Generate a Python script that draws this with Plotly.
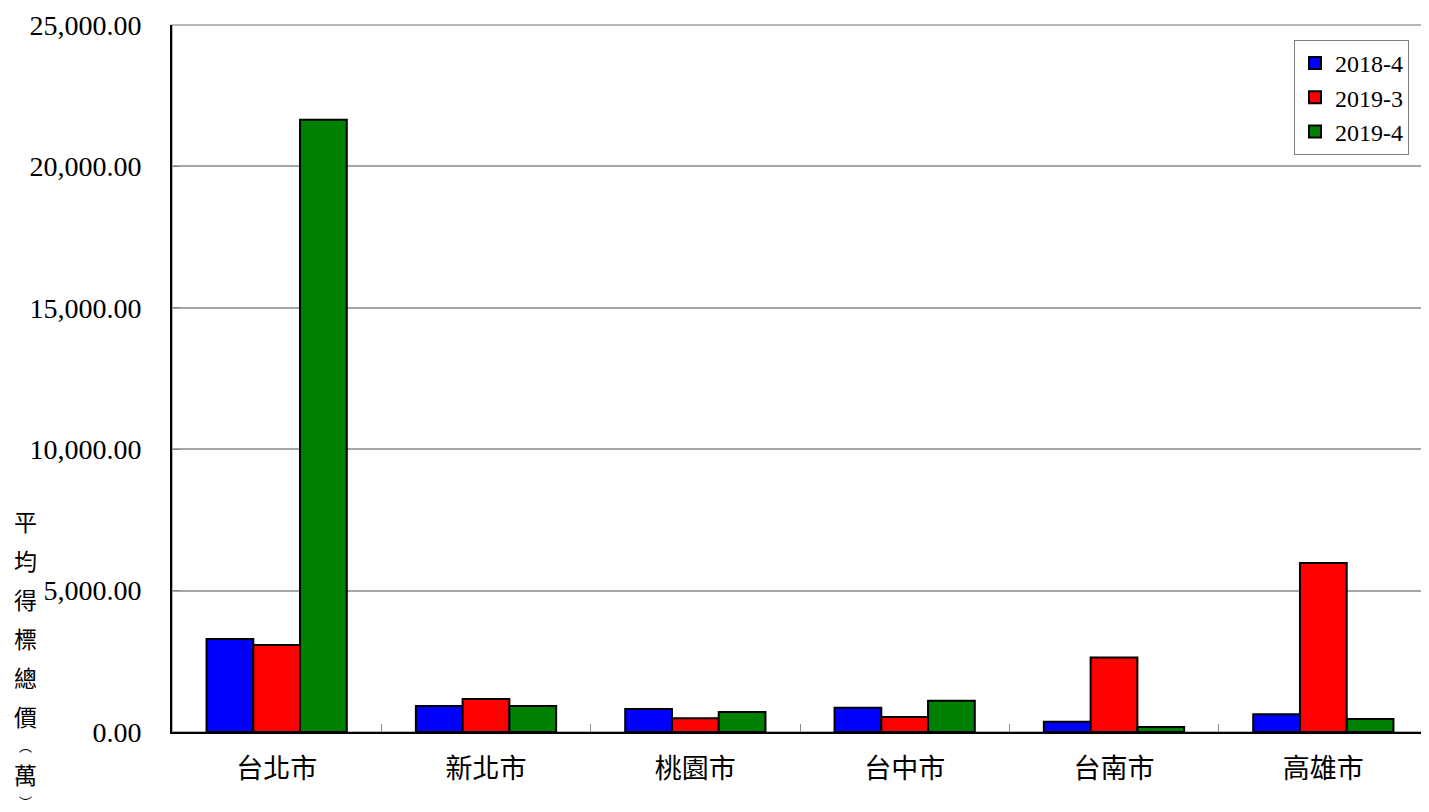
import plotly.graph_objects as go

categories = ["台北市", "新北市", "桃園市", "台中市", "台南市", "高雄市"]
series_names = ["2018-4", "2019-3", "2019-4"]
v_2018_4 = [3290, 920, 815, 860, 365, 625]
v_2019_3 = [3075, 1165, 485, 530, 2630, 5975]
v_2019_4 = [21650, 920, 705, 1105, 175, 460]
colors = ["#0000FF", "#FF0000", "#008000"]
y_title = ["平", "均", "得", "標", "總", "價", "︵", "萬", "︶"]
y_title_px = [521, 560, 599, 638, 677, 716, 745, 774, 801]
y_title_size = [23, 23, 23, 23, 23, 23, 13, 23, 13]

# page has an 8px body margin: figure origin sits at (8, 8) in the window
OFF = 8
W, H = 1421, 804
ml, mr, mt, mb = 164, 1, 17, 80
plot_w = W - ml - mr
plot_h = H - mt - mb

fig = go.Figure()
for name, vals, c in zip(series_names, [v_2018_4, v_2019_3, v_2019_4], colors):
    fig.add_trace(go.Bar(x=categories, y=vals, name=name,
                         marker=dict(color=c, line=dict(color="black", width=2))))

serif = "Liberation Serif, Times New Roman, Noto Sans CJK TC, serif"
cjk = "Noto Sans CJK TC, Liberation Serif, serif"

annotations = []
for ch, py, sz in zip(y_title, y_title_px, y_title_size):
    annotations.append(dict(text=ch, xref="paper", yref="paper",
                            x=(25 - OFF - ml) / plot_w,
                            y=(H - mb - (py - OFF)) / plot_h,
                            xanchor="center", yanchor="middle", showarrow=False,
                            font=dict(family=cjk, size=sz, color="black")))

fig.update_layout(
    width=W, height=H,
    margin=dict(l=ml, r=mr, t=mt, b=mb, autoexpand=False),
    paper_bgcolor="white", plot_bgcolor="white",
    barmode="group", bargap=0.33, bargroupgap=0,
    font=dict(family=serif, color="black"),
    legend=dict(x=(1409 - OFF - ml) / plot_w, y=(H - mb - (40 - OFF)) / plot_h,
                xanchor="right", yanchor="top",
                bgcolor="white", bordercolor="#808080", borderwidth=1,
                font=dict(family=serif, size=24, color="black"),
                itemwidth=30),
    annotations=annotations,
    shapes=[dict(type="rect", xref="paper", yref="paper", x0=0, y0=0, x1=1, y1=1,
                 line=dict(color="#a0a0a0", width=1.5), layer="below")],
)
fig.update_xaxes(showline=True, linecolor="black", linewidth=2, automargin=False,
                 ticks="inside", tickson="boundaries", ticklen=8, tickcolor="#888",
                 tickfont=dict(family=cjk, size=27, color="black"),
                 ticklabelstandoff=12, showgrid=False)
fig.update_yaxes(range=[0, 25000], dtick=5000, tickformat=",.2f", automargin=False,
                 showline=True, linecolor="black", linewidth=2,
                 ticks="inside", ticklen=8, tickcolor="#888",
                 showgrid=True, gridcolor="#a6a6a6", gridwidth=1.5,
                 tickfont=dict(family=serif, size=28, color="black"),
                 ticklabelstandoff=23, zeroline=False)

fig.write_html("out.html")
